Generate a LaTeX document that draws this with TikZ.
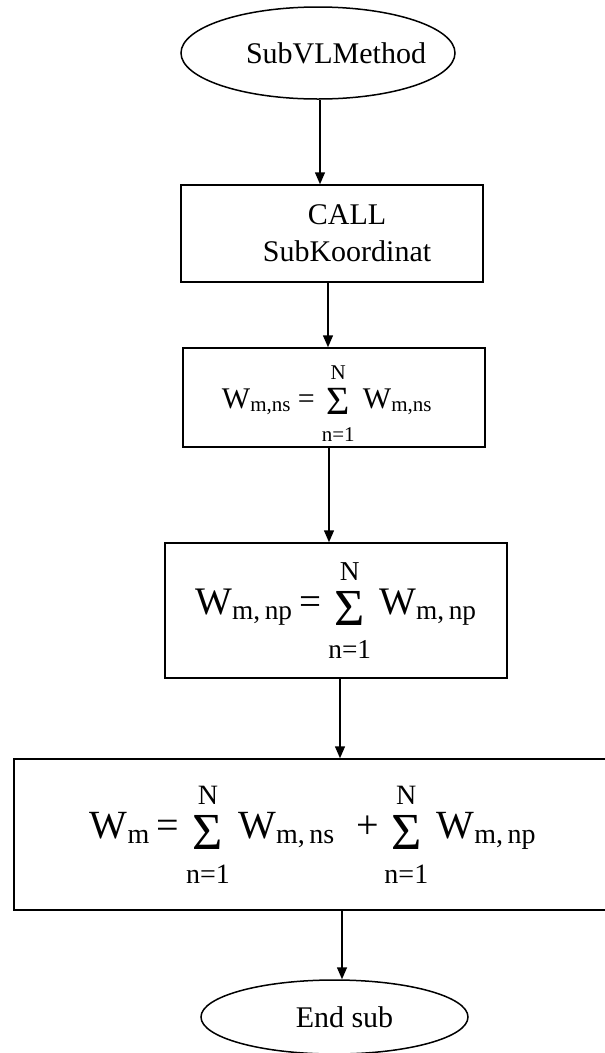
\documentclass[tikz,border=0pt]{standalone}
\usepackage{amsmath}
\usepackage{fontspec}
\setmainfont{Liberation Serif}
\usetikzlibrary{shapes.geometric,arrows.meta}
\newcommand{\Wt}{\text{W}}
\newcommand{\SumNn}[1]{\mathop{\vcenter{\hbox{\fontsize{#1}{#1}\selectfont Σ}}}\limits_{\text{\rule{0pt}{1.05em}n=1}}^{\text{\rule[-0.3em]{0pt}{0pt}N}}}
\begin{document}
\begin{tikzpicture}[x=1pt,y=1pt,
  every node/.style={font=\fontsize{30}{37}\selectfont},
  term/.style={draw, ellipse, line width=1.5pt, inner sep=0pt},
  proc/.style={draw, rectangle, line width=1.5pt, inner sep=0pt, align=center},
  arr/.style={line width=1.5pt, -{Triangle[length=12pt,width=10pt]}}]
\useasboundingbox (0,0) rectangle (605,-1053);
\clip (0,0) rectangle (605,-1053);
\node[term, minimum width=274pt, minimum height=92pt] (start) at (318,-53)
  {\makebox[0pt]{\hspace*{36pt}SubVLMethod}};
\node[proc, minimum width=302pt, minimum height=97pt] (call) at (332,-233.5)
  {\hspace*{30pt}CALL\\\hspace*{30pt}SubKoordinat};
\node[proc, minimum width=302pt, minimum height=99pt,
  label={[xshift=-7pt,yshift=-6pt,font=\fontsize{30}{34}\selectfont]center:{$\Wt_{\text{m,ns}} \mathrel{\text{=}} \SumNn{40pt}\,\Wt_{\text{m,ns}}$}}]
  (sumns) at (334,-397.5) {};
\node[proc, minimum width=342pt, minimum height=135pt,
  font=\fontsize{39}{44}\selectfont] (sumnp) at (336,-610.5)
  {$\Wt_{\text{m,\,np}} \mathrel{\text{=}} \SumNn{52pt}\,\Wt_{\text{m,\,np}}$};
\node[proc, minimum width=598pt, minimum height=151pt,
  font=\fontsize{40}{46}\selectfont] (total) at (313,-834.5)
  {$\Wt_{\text{m}} \mathrel{\text{=}} \SumNn{52pt}\,\Wt_{\text{m,\,ns}}\hspace{16pt}\mathbin{\text{+}}\SumNn{52pt}\,\Wt_{\text{m,\,np}}$};
\node[term, minimum width=267pt, minimum height=74pt] (end) at (334.5,-1017)
  {\makebox[0pt]{\hspace*{20pt}End sub}};
\draw[arr] ([xshift=2pt]start.south) -- ([xshift=-12pt]call.north);
\draw[arr] ([xshift=-4pt]call.south) -- ([xshift=-6pt]sumns.north);
\draw[arr] ([xshift=-5pt]sumns.south) -- ([xshift=-7pt]sumnp.north);
\draw[arr] ([xshift=4pt]sumnp.south) -- ([xshift=27pt]total.north);
\draw[arr] ([xshift=29pt]total.south) -- ([xshift=7.5pt]end.north);
\end{tikzpicture}
\end{document}
